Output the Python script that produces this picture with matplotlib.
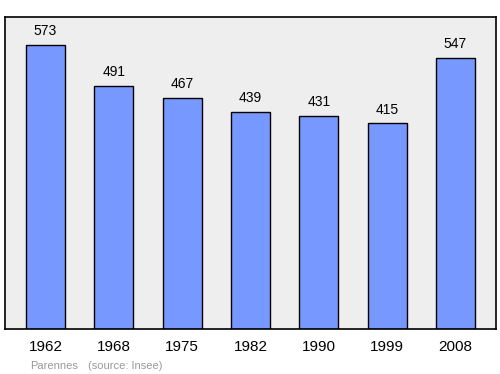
import matplotlib
matplotlib.use("Agg")
from matplotlib import pyplot as plt
import numpy as np

plt.rcParams['font.family'] = ['Liberation Sans', 'DejaVu Sans']

# data
years = ["1962", "1968", "1975", "1982", "1990", "1999", "2008"]
population = [573, 491, 467, 439, 431, 415, 547]

fig = plt.figure(figsize=(5, 3.74), dpi=100)
ax = fig.add_axes([0.01, 0.1203, 0.982, 0.8342])
ax.set_facecolor("#eeeeee")

x = np.arange(len(years))
ax.bar(x, population, width=0.57, color="#7799ff", edgecolor="black", linewidth=1.0, zorder=2)

for xi, v in zip(x, population):
    ax.annotate(str(v), (xi, v), xytext=(0, 5), textcoords="offset points",
                ha="center", va="bottom", fontsize=10)

ax.set_xlim(-0.593, 6.593)
ax.set_ylim(0, 630)
ax.set_yticks([])
ax.set_xticks(x)
ax.set_xticklabels(years, fontsize=11)
ax.tick_params(axis="x", length=0, pad=8)
for s in ax.spines.values():
    s.set_linewidth(1.2)

fig.text(0.06, 0.013, "Parennes", fontsize=8, color="#999999")
fig.text(0.176, 0.013, "(source: Insee)", fontsize=8, color="#999999")

fig.savefig("out.png", dpi=100)
